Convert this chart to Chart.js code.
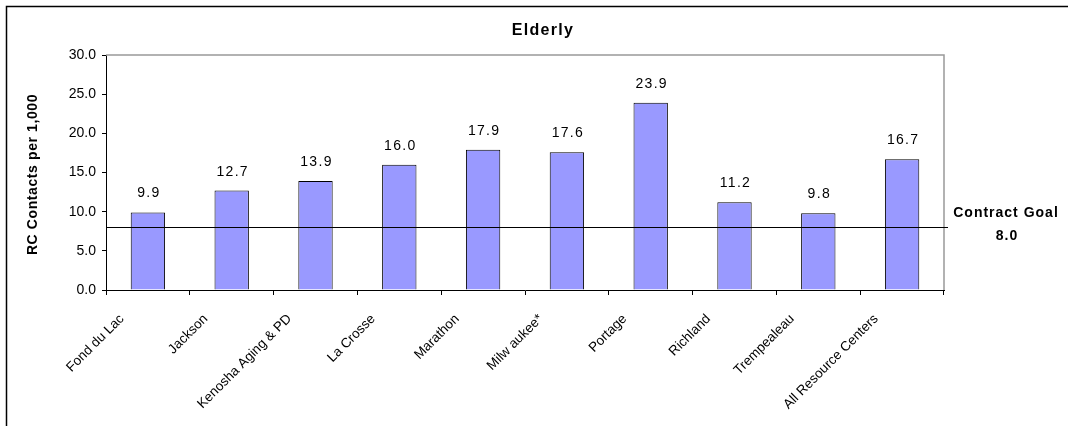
<!DOCTYPE html>
<html>
<head>
<meta charset="utf-8">
<script src="https://cdn.jsdelivr.net/npm/chart.js@4"></script>
<style>
  html, body { margin: 0; padding: 0; background: #fff; overflow: hidden; }
  #wrap { width: 1068px; height: 426px; }
</style>
</head>
<body>
<div id="wrap"><canvas id="myChart" width="1068" height="426"></canvas></div>
<script>
// Chart data
const chartTitle = 'Elderly';
const yAxisTitle = 'RC Contacts per 1,000';
const centers = ['Fond du Lac', 'Jackson', 'Kenosha Aging & PD', 'La Crosse', 'Marathon', 'Milw aukee*', 'Portage', 'Richland', 'Trempealeau', 'All Resource Centers'];
const contactsPer1000 = [9.9, 12.7, 13.9, 16.0, 17.9, 17.6, 23.9, 11.2, 9.8, 16.7];
const contractGoal = 8.0;
const goalLabel = ['Contract Goal', '8.0'];
const yTicks = [0, 5, 10, 15, 20, 25, 30];

const FONT = '"Liberation Sans", Arial, sans-serif';

// Extra drawing: frame, titles, value labels, goal line
const decorPlugin = {
    id: 'decor',
    afterDraw(chart) {
        const ctx = chart.ctx;
        const area = chart.chartArea;
        const y = chart.scales.y;
        ctx.save();

        // Outer frame (only top and left edges fall inside the canvas)
        ctx.strokeStyle = '#000';
        ctx.lineWidth = 1.5;
        ctx.beginPath();
        ctx.moveTo(6.5, 430);
        ctx.lineTo(6.5, 6.5);
        ctx.lineTo(1070, 6.5);
        ctx.stroke();

        // Plot area top and right edges
        ctx.strokeStyle = '#999';
        ctx.lineWidth = 1.5;
        ctx.beginPath();
        ctx.moveTo(area.left, area.top);
        ctx.lineTo(area.right, area.top);
        ctx.lineTo(area.right, area.bottom);
        ctx.stroke();

        // Chart title
        ctx.fillStyle = '#000';
        ctx.font = 'bold 16px ' + FONT;
        ctx.letterSpacing = '1.3px';
        ctx.textAlign = 'center';
        ctx.textBaseline = 'alphabetic';
        ctx.fillText(chartTitle, 543, 34.5);

        // Y axis title
        ctx.save();
        ctx.translate(33, (area.top + area.bottom) / 2 + 2);
        ctx.rotate(-Math.PI / 2);
        ctx.font = 'bold 14px ' + FONT;
        ctx.letterSpacing = '0.6px';
        ctx.textBaseline = 'middle';
        ctx.fillText(yAxisTitle, 0, 0);
        ctx.restore();

        // Value labels above bars
        ctx.font = '14px ' + FONT;
        ctx.letterSpacing = '1.3px';
        ctx.textBaseline = 'alphabetic';
        const meta = chart.getDatasetMeta(0);
        meta.data.forEach((bar, i) => {
            ctx.fillText(contactsPer1000[i].toFixed(1), bar.x + 1, bar.y - 15);
        });

        // Contract goal line
        const gy = y.getPixelForValue(contractGoal);
        ctx.strokeStyle = '#000';
        ctx.lineWidth = 1;
        ctx.beginPath();
        ctx.moveTo(area.left, Math.round(gy) + 0.5);
        ctx.lineTo(area.right + 4, Math.round(gy) + 0.5);
        ctx.stroke();

        // Goal label
        ctx.font = 'bold 14px ' + FONT;
        ctx.letterSpacing = '1px';
        ctx.textBaseline = 'middle';
        ctx.fillText(goalLabel[0], 1006, gy - 14);
        ctx.fillText(goalLabel[1], 1007, gy + 9);
        ctx.restore();
    }
};

const ctx = document.getElementById('myChart');
new Chart(ctx, {
    type: 'bar',
    data: {
        labels: centers,
        datasets: [{
            data: contactsPer1000,
            backgroundColor: '#9999FF',
            borderColor: '#000',
            borderWidth: 1,
            categoryPercentage: 1,
            barPercentage: 0.41
        }]
    },
    options: {
        responsive: false,
        animation: false,
        layout: { padding: { left: 0, top: 55, right: 124, bottom: 0 } },
        plugins: {
            legend: { display: false },
            tooltip: { enabled: false },
            title: { display: false }
        },
        scales: {
            x: {
                afterFit: (scale) => { scale.height = 136; },
                border: { color: '#000', width: 1 },
                grid: { display: true, drawOnChartArea: false, tickLength: 5, color: '#000', offset: true },
                ticks: {
                    color: '#000',
                    font: { family: FONT, size: 13.5 },
                    minRotation: 45,
                    maxRotation: 45,
                    autoSkip: false,
                    padding: 16,
                    labelOffset: -26
                }
            },
            y: {
                min: 0,
                max: 30,
                afterFit: (scale) => { scale.width = 106; },
                afterBuildTicks: (scale) => { scale.ticks = yTicks.map(v => ({ value: v })); },
                border: { color: '#000', width: 1 },
                grid: { display: true, drawOnChartArea: false, tickLength: 4, color: '#000' },
                ticks: {
                    color: '#000',
                    font: { family: FONT, size: 14 },
                    padding: 6,
                    callback: (v) => Number(v).toFixed(1)
                }
            }
        }
    },
    plugins: [decorPlugin]
});
</script>
</body>
</html>
